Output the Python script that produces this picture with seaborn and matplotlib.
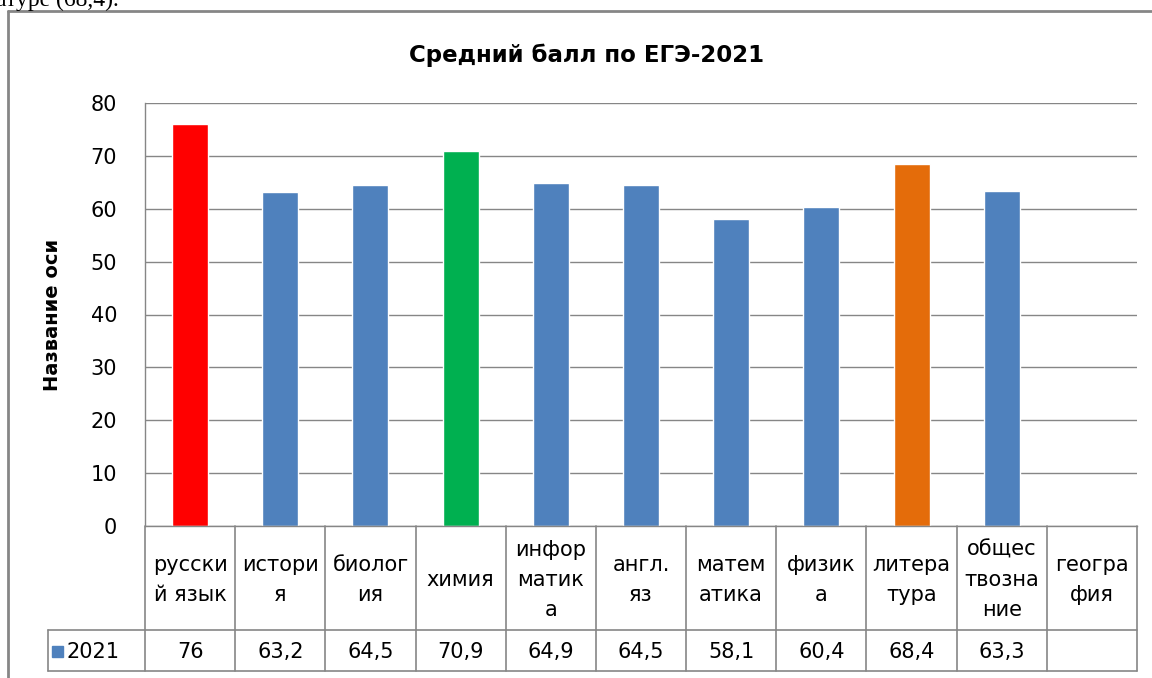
import numpy as np
import pandas as pd
import seaborn as sns
from matplotlib import pyplot as plt
from matplotlib.lines import Line2D
from matplotlib.patches import Rectangle

sns.set_style('white')
plt.rcParams['font.family'] = ['DejaVu Sans']
plt.rcParams['text.color'] = 'black'

# data
subjects = ["русски\nй язык", "истори\nя", "биолог\nия", "химия",
            "инфор\nматик\nа", "англ.\nяз", "матем\nатика", "физик\nа",
            "литера\nтура", "общес\nтвозна\nние", "геогра\nфия"]
scores = [76, 63.2, 64.5, 70.9, 64.9, 64.5, 58.1, 60.4, 68.4, 63.3, np.nan]
bar_colors = ["#FF0000", "#4F81BD", "#4F81BD", "#00B050", "#4F81BD", "#4F81BD",
              "#4F81BD", "#4F81BD", "#E46C0A", "#4F81BD", "#4F81BD"]
series_name = "2021"
yticks = [0, 10, 20, 30, 40, 50, 60, 70, 80]

W, H = 1152, 678
fig = plt.figure(figsize=(W / 100, H / 100), dpi=100)
# plot area in pixels: left 145, right 1137, top 103, bottom 526
L, R, T, B = 145, 1137, 103, 526
ax = fig.add_axes([L / W, 1 - B / H, (R - L) / W, (B - T) / H])

df = pd.DataFrame({"subject": subjects, "score": scores})
sns.barplot(data=df, x="subject", y="score", hue="subject", order=subjects,
            hue_order=subjects, palette=dict(zip(subjects, bar_colors)),
            width=0.4, saturation=1, legend=False, ax=ax)

grid_c = "#868686"
fs = 15
ax.set_xlim(-0.5, len(subjects) - 0.5)
ax.set_ylim(0, 80)
ax.set_yticks(yticks)
ax.yaxis.grid(True, color=grid_c, lw=1)
ax.set_axisbelow(True)
ax.tick_params(axis='y', length=0, pad=20, labelsize=fs, labelcolor='black')
ax.set_xticks([])
ax.set_xlabel("")
ax.set_ylabel("Название оси", fontsize=14, fontweight='bold', color='black')
ax.yaxis.set_label_coords((62 - L) / (R - L), 0.5)
for s in ['top', 'right']:
    ax.spines[s].set_visible(False)
for s in ['left', 'bottom']:
    ax.spines[s].set_color(grid_c)
    ax.spines[s].set_linewidth(1)


def fx(px):
    return px / W


def fy(py):
    return 1 - py / H


# data table under the axis
row1, row2 = 630, 671
leg_l = 48
n = len(subjects)
colw = (R - L) / n


def hline(x0, x1, y):
    fig.add_artist(Line2D([fx(x0), fx(x1)], [fy(y), fy(y)], color=grid_c, lw=1.2))


def vline(x, y0, y1):
    fig.add_artist(Line2D([fx(x), fx(x)], [fy(y0), fy(y1)], color=grid_c, lw=1.2))


hline(leg_l, R, row1)
hline(leg_l, R, row2)
vline(leg_l, row1, row2)
for i in range(n + 1):
    vline(L + i * colw, B, row2)

for i, (name, v) in enumerate(zip(subjects, scores)):
    cx = L + (i + 0.5) * colw
    fig.text(fx(cx), fy((B + row1) / 2 + 2), name, ha='center', va='center',
             fontsize=fs, linespacing=1.65)
    if not np.isnan(v):
        fig.text(fx(cx), fy((row1 + row2) / 2 + 1), f"{v:g}".replace(".", ","),
                 ha='center', va='center', fontsize=fs)

fig.add_artist(Rectangle((fx(52), fy(657)), fx(11), 11 / H, color="#4F81BD",
                         transform=fig.transFigure))
fig.text(fx(67), fy((row1 + row2) / 2 + 1), series_name, ha='left', va='center',
         fontsize=fs)

# title
fig.text(fx(587), fy(55), "Средний балл по ЕГЭ-2021", ha='center', va='center',
         fontsize=16.5, fontweight='bold')

# chart frame (only left and top edges are in view)
fig.add_artist(Line2D([fx(8), fx(8)], [fy(11), 0], color=grid_c, lw=2))
fig.add_artist(Line2D([fx(8), 1], [fy(11), fy(11)], color=grid_c, lw=2))

# cut-off line of the document text above the chart
fig.text(fx(-4), fy(6), "атуре (68,4).", ha='left', va='baseline',
         fontsize=17, family='Liberation Serif')

fig.savefig("out.png", dpi=100)
